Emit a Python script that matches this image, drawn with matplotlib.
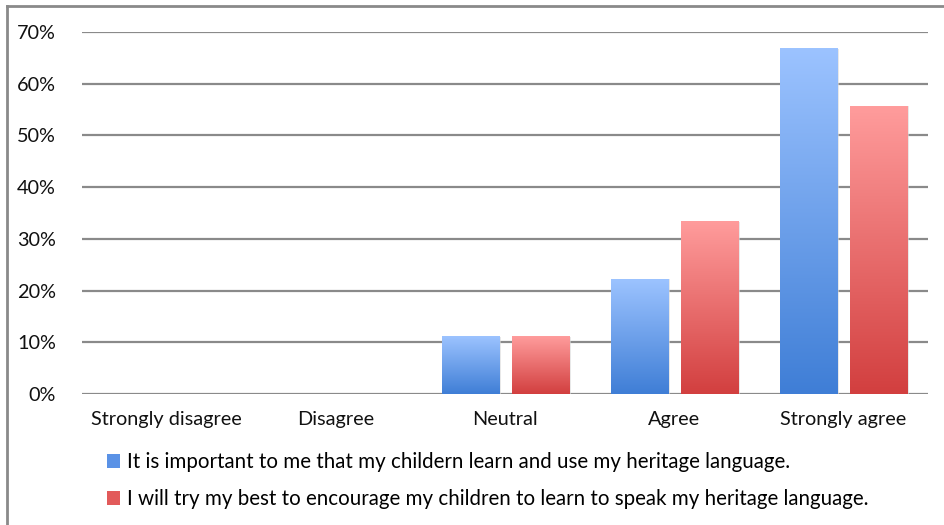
import numpy as np
import matplotlib
matplotlib.use('Agg')
import matplotlib.pyplot as plt
from matplotlib.lines import Line2D
from matplotlib.patches import Patch
from matplotlib.colors import LinearSegmentedColormap

plt.rcParams['font.family'] = ['Lato', 'DejaVu Sans']

categories = ['Strongly disagree', 'Disagree', 'Neutral', 'Agree', 'Strongly agree']
important = [0.0, 0.0, 11.1, 22.2, 66.7]
encourage = [0.0, 0.0, 11.1, 33.3, 55.6]
labels = ['It is important to me that my childern learn and use my heritage language.',
          'I will try my best to encourage my children to learn to speak my heritage language.']
yticks = [0, 10, 20, 30, 40, 50, 60, 70]

blue_cmap = LinearSegmentedColormap.from_list('b', ['#3f7ed6', '#9cc3ff'])
red_cmap = LinearSegmentedColormap.from_list('r', ['#d23f3f', '#ff9c9c'])

fig = plt.figure(figsize=(9.44, 5.25), dpi=100)
ax = fig.add_axes([0.087, 0.2495, 0.896, 0.69])

x = np.arange(len(categories))
width = 0.337
offset = 0.207
grad = np.linspace(0, 1, 256).reshape(-1, 1)

for vals, dx, cmap in ((important, -offset, blue_cmap), (encourage, offset, red_cmap)):
    bars = ax.bar(x + dx, vals, width, color='none', zorder=3)
    for b in bars:
        h = b.get_height()
        if h <= 0:
            continue
        x0 = b.get_x()
        # soft shadow behind the bar
        ax.bar(x0 + width / 2 + 0.006, h, width + 0.012, color='#d9d9d9', alpha=0.6,
               zorder=2.5)
        ax.imshow(grad, cmap=cmap, origin='lower', aspect='auto',
                  extent=(x0, x0 + width, 0, h), zorder=3)

ax.set_xlim(-0.5, 4.5)
ax.set_ylim(0, 70)
ax.set_yticks(yticks)
ax.set_yticklabels([f'{v}%' for v in yticks])
ax.set_xticks(x)
ax.set_xticklabels(categories)
ax.tick_params(axis='y', length=0, pad=19, labelsize=14.3, colors='#111111')
ax.tick_params(axis='x', length=0, pad=12.5, labelsize=14.3, colors='#111111')
ax.grid(axis='y', color='#8a8a8a', linewidth=1.6, zorder=0)
ax.set_axisbelow(True)
for s in ax.spines.values():
    s.set_visible(False)

handles = [Patch(facecolor='#5a92e6'), Patch(facecolor='#e25a5a')]
fig.legend(handles, labels, loc='upper left', bbox_to_anchor=(0.113, 0.139),
           frameon=False, handlelength=0.65, handleheight=0.65, handletextpad=0.35,
           labelspacing=0.85, fontsize=14.8, borderaxespad=0, borderpad=0)

# outer frame edge
fig.add_artist(Line2D([0.0074, 0.0074], [0, 0.989], color='#8a8a8a', linewidth=2,
                      transform=fig.transFigure))
fig.add_artist(Line2D([0.0074, 1.0], [0.989, 0.989], color='#8a8a8a', linewidth=2,
                      transform=fig.transFigure))

fig.savefig('out.png', dpi=100)
